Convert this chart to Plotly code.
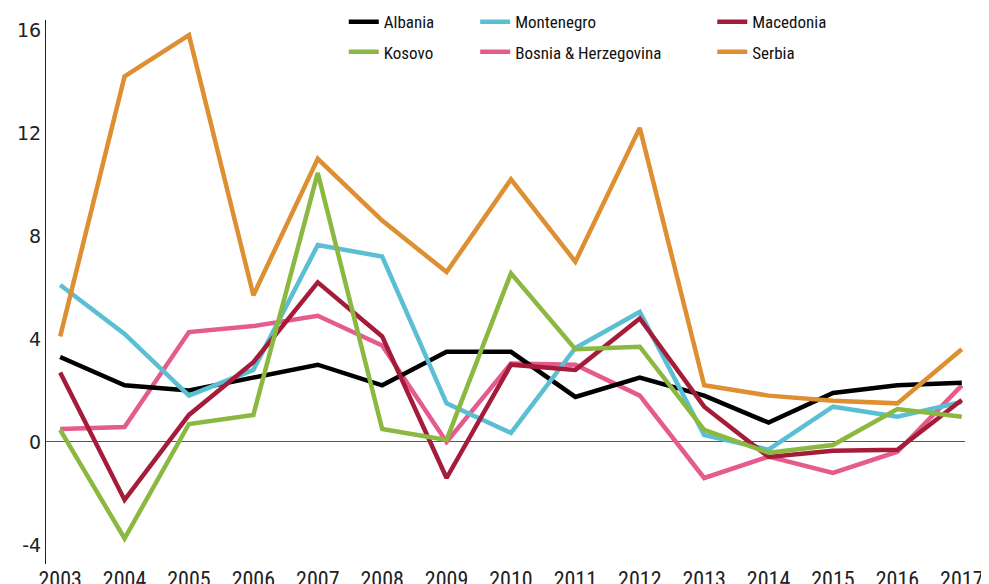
import plotly.graph_objects as go

years = list(range(2003, 2018))

albania = [3.3, 2.2, 2.0, 2.5, 3.0, 2.2, 3.5, 3.5, 1.75, 2.5, 1.8, 0.75, 1.9, 2.2, 2.3]
montenegro = [6.1, 4.2, 1.8, 2.8, 7.65, 7.2, 1.5, 0.35, 3.65, 5.05, 0.27, -0.3, 1.37, 0.98, 1.55]
macedonia = [2.7, -2.25, 1.05, 3.1, 6.2, 4.1, -1.4, 3.0, 2.8, 4.8, 1.37, -0.58, -0.34, -0.3, 1.63]
kosovo = [0.47, -3.75, 0.7, 1.05, 10.45, 0.5, 0.08, 6.55, 3.6, 3.7, 0.47, -0.42, -0.12, 1.28, 0.98]
bosnia = [0.5, 0.58, 4.27, 4.5, 4.9, 3.75, 0.0, 3.05, 3.0, 1.8, -1.4, -0.57, -1.2, -0.38, 2.2]
serbia = [4.1, 14.2, 15.8, 5.7, 11.0, 8.6, 6.6, 10.2, 7.0, 12.2, 2.2, 1.8, 1.6, 1.5, 3.6]

y_ticks = [-4, 0, 4, 8, 12, 16]
y_labels = ["-4", "0", "4", "8", "12", "16"]

series = [
    ("Bosnia & Herzegovina", bosnia, "#e55b8c", "legend2"),
    ("Albania", albania, "#000000", "legend"),
    ("Montenegro", montenegro, "#5bbfd3", "legend2"),
    ("Macedonia", macedonia, "#a51c3a", "legend3"),
    ("Kosovo", kosovo, "#8ab840", "legend"),
    ("Serbia", serbia, "#dd8f32", "legend3"),
]
rank = {"Albania": 1, "Kosovo": 2, "Montenegro": 1, "Bosnia & Herzegovina": 2, "Macedonia": 1, "Serbia": 2}

fig = go.Figure()
for name, vals, color, lg in series:
    fig.add_trace(go.Scatter(
        x=years, y=vals, mode="lines", name=name,
        line=dict(color=color, width=4.5),
        legend=lg, legendrank=rank[name], legendgroup=name,
    ))

narrow = "Liberation Sans Narrow, Roboto Condensed, Arial Narrow, sans-serif"
legend_common = dict(
    orientation="v", yanchor="top", xanchor="left",
    font=dict(family=narrow, size=17, color="#111"),
    bgcolor="rgba(0,0,0,0)", tracegroupgap=5,
)
Y_TOP, Y_BOT = 16.39, -4.74
fig.update_layout(
    width=981, height=576,
    margin=dict(l=38, r=24, t=12, b=20, autoexpand=False),
    plot_bgcolor="white", paper_bgcolor="white",
    showlegend=True,
    legend=dict(x=0.324, y=1.029, **legend_common),
    legend2=dict(x=0.467, y=1.029, **legend_common),
    legend3=dict(x=0.725, y=1.029, **legend_common),
    xaxis=dict(
        range=[2002.78, 2017.05], tickmode="array", tickvals=years,
        ticktext=[str(y) for y in years], showgrid=False, zeroline=False,
        showline=False, ticks="",
        tickfont=dict(family=narrow, size=22, color="#222"),
    ),
    yaxis=dict(
        range=[Y_BOT, Y_TOP], tickmode="array", tickvals=y_ticks, ticktext=y_labels,
        showgrid=False, zeroline=True, zerolinecolor="#555", zerolinewidth=1.2,
        showline=True, linecolor="#222", linewidth=1.2, ticks="",
        tickfont=dict(family="DejaVu Sans, sans-serif", size=19, color="#222"),
    ),
)

fig.write_html("out.html")
